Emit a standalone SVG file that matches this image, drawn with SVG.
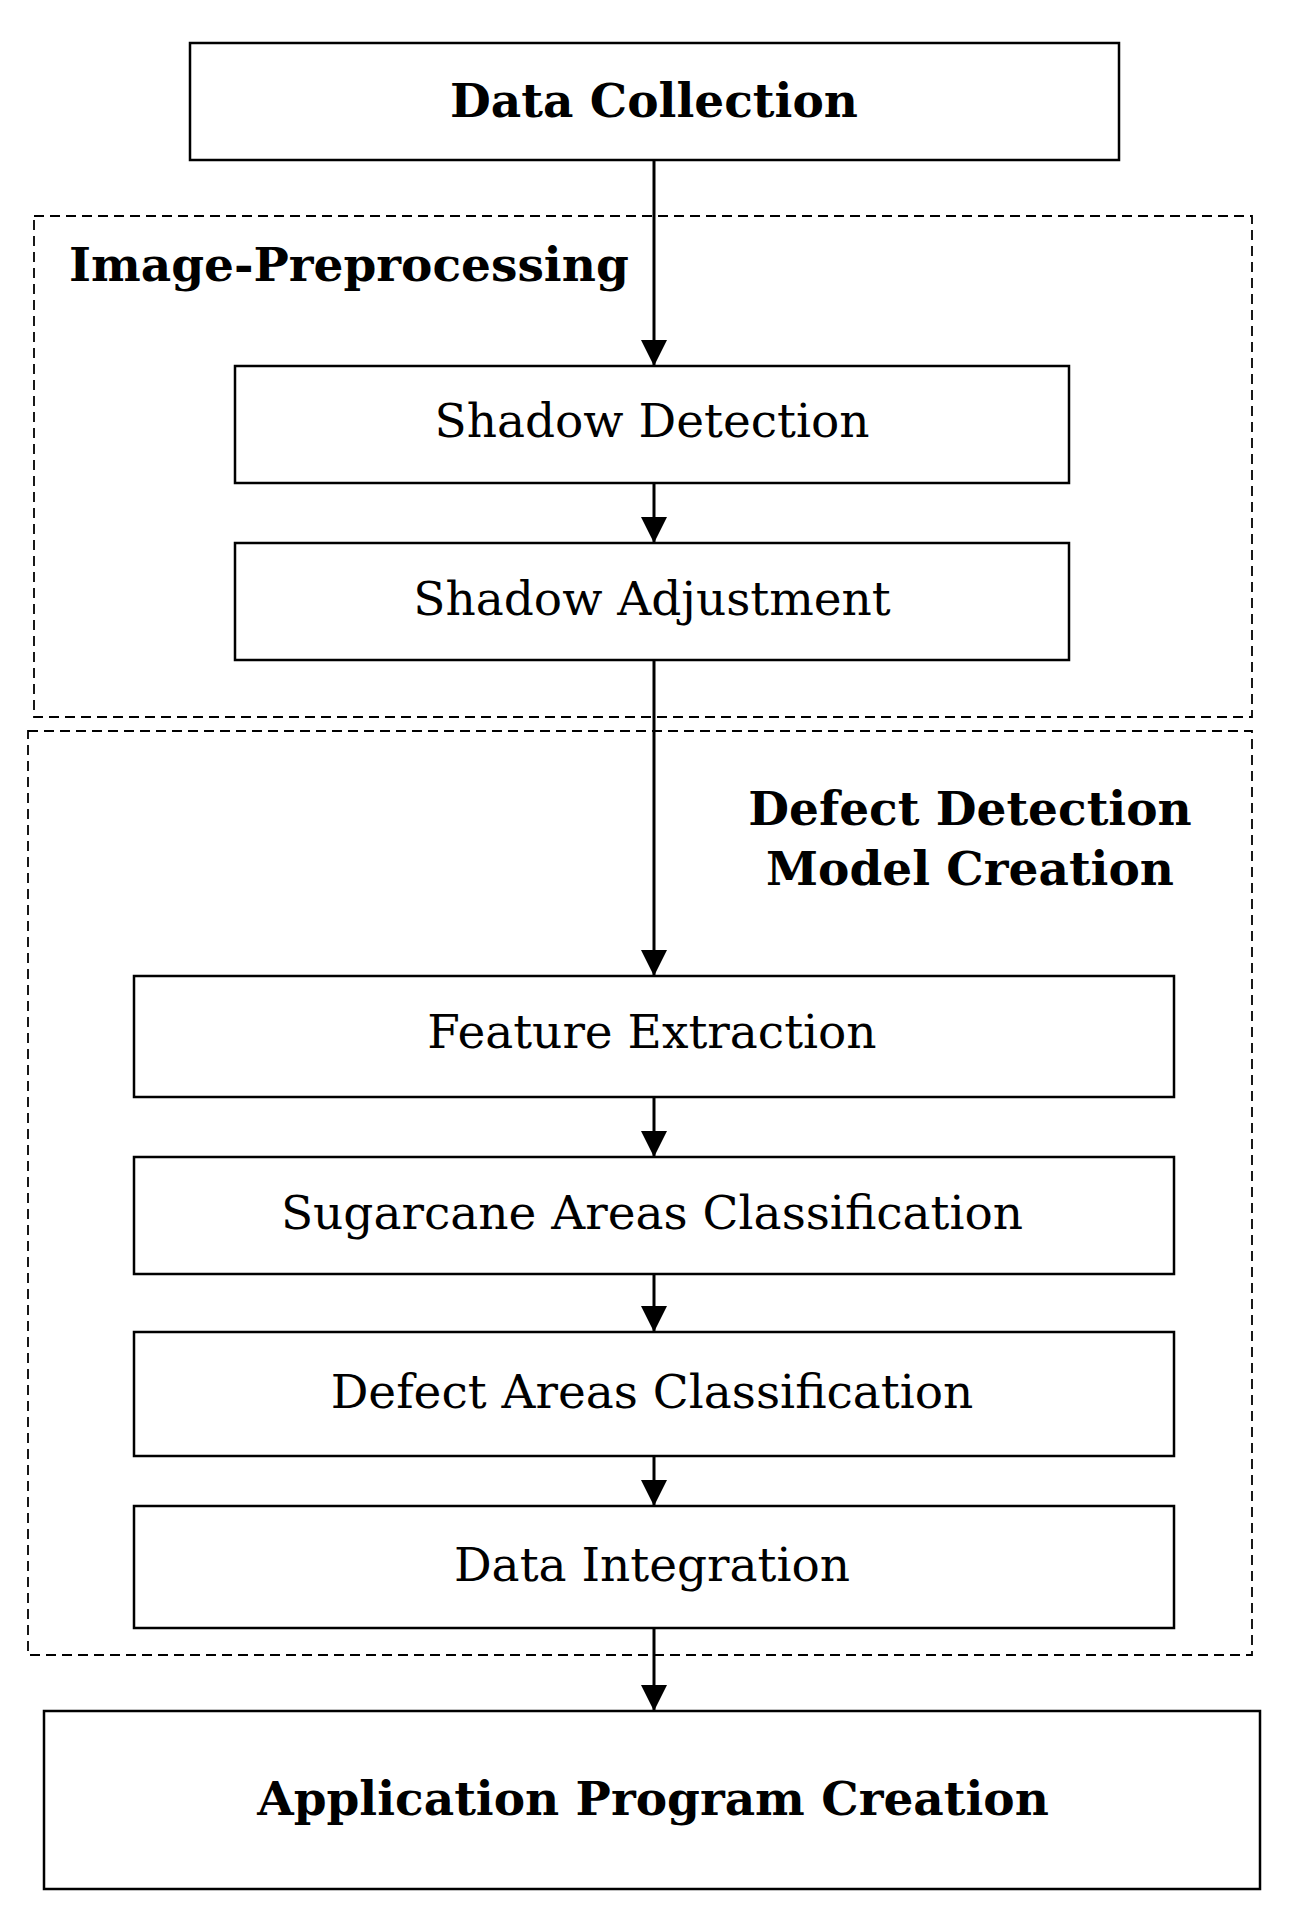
<svg xmlns="http://www.w3.org/2000/svg" width="1293" height="1924" viewBox="0 0 1293 1924">
<style>
.box{fill:#fff;stroke:#000;stroke-width:2.5}
.grp{fill:none;stroke:#000;stroke-width:1.8;stroke-dasharray:10 6}
.t{font-family:"DejaVu Serif","Liberation Serif",serif;font-size:47px;text-anchor:middle;fill:#000}
.b{font-weight:bold}
.c{stroke:#000;stroke-width:3;fill:none;marker-end:url(#a)}
</style>
<defs>
<marker id="a" markerWidth="26" markerHeight="26" refX="26" refY="13" orient="auto" markerUnits="userSpaceOnUse" viewBox="0 0 26 26"><path d="M0,0L26,13L0,26z" fill="#000"/></marker>
</defs>
<rect width="1293" height="1924" fill="#fff"/>
<g id="g-pre"><rect class="grp" x="34" y="216" width="1218" height="501"/><text class="t b" x="69" y="281" style="text-anchor:start">Image-Preprocessing</text></g>
<g id="g-def"><rect class="grp" x="28" y="731" width="1224" height="924"/><text class="t b" x="970" y="825">Defect Detection</text><text class="t b" x="970" y="885">Model Creation</text></g>
<g id="n1"><rect class="box" x="190" y="43" width="929" height="117"/><text class="t b" x="654" y="117">Data Collection</text></g>
<g id="n2"><rect class="box" x="235" y="366" width="834" height="117"/><text class="t" x="652" y="437">Shadow Detection</text></g>
<g id="n3"><rect class="box" x="235" y="543" width="834" height="117"/><text class="t" x="652" y="615">Shadow Adjustment</text></g>
<g id="n4"><rect class="box" x="134" y="976" width="1040" height="121"/><text class="t" x="652" y="1048">Feature Extraction</text></g>
<g id="n5"><rect class="box" x="134" y="1157" width="1040" height="117"/><text class="t" x="652" y="1229">Sugarcane Areas Classification</text></g>
<g id="n6"><rect class="box" x="134" y="1332" width="1040" height="124"/><text class="t" x="652" y="1408">Defect Areas Classification</text></g>
<g id="n7"><rect class="box" x="134" y="1506" width="1040" height="122"/><text class="t" x="652" y="1581">Data Integration</text></g>
<g id="n8"><rect class="box" x="44" y="1711" width="1216" height="178"/><text class="t b" x="653" y="1815">Application Program Creation</text></g>
<g id="connectors">
<path class="c" d="M654,160V366"/>
<path class="c" d="M654,483V543"/>
<path class="c" d="M654,660V976"/>
<path class="c" d="M654,1097V1157"/>
<path class="c" d="M654,1274V1332"/>
<path class="c" d="M654,1456V1506"/>
<path class="c" d="M654,1628V1711"/>
</g>
</svg>
